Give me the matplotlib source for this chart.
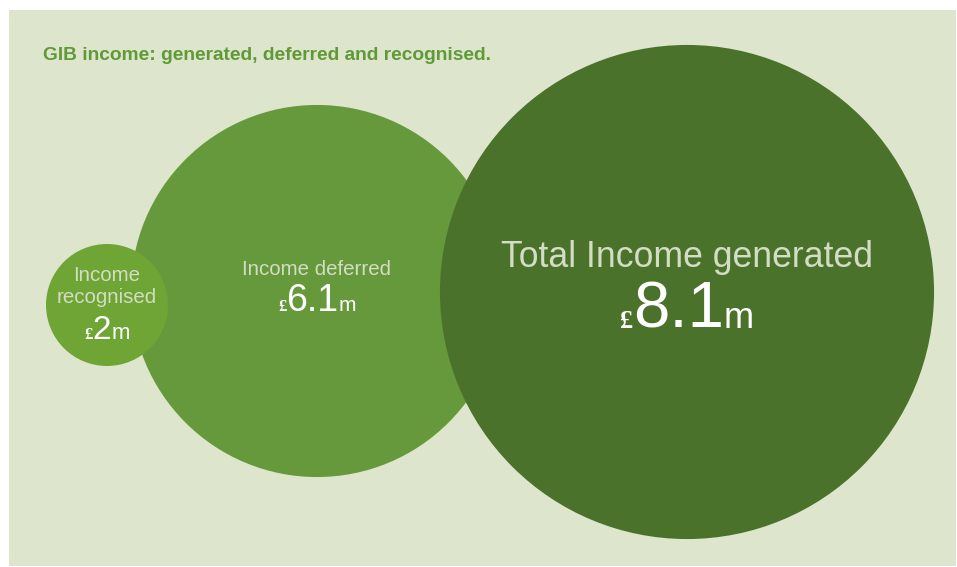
import matplotlib

matplotlib.use("Agg")

import matplotlib.pyplot as plt
from matplotlib.patches import Circle, Rectangle

# values (GBP m) and their labels
labels = ["Income\nrecognised", "Income deferred", "Total Income generated"]
values = [2.0, 6.1, 8.1]
value_text = ["2", "6.1", "8.1"]

# layout in pixel coordinates
centers = [(107, 305), (317, 291), (687, 292)]
px_per_m = 30.5
colors = ["#6ea534", "#66993b", "#4b722a"]
zorders = [4, 2, 3]
label_y = [303, 275, 267]  # baseline of the last line
label_size = [14.8, 14.8, 25.7]
value_y = [339, 311, 328]
value_size = [24, 27, 47]
pound_size = [12, 12, 19]
m_size = [16, 15, 26]

BG = "#dde6cd"
LABEL_COLOR = "#d2ddc4"
FONT = "Liberation Sans"


def draw_value(ax, fig, x, y, i):
    # "£", number and "m" on a shared baseline, centred on x
    parts = [("£", pound_size[i], "Liberation Serif", "bold"),
             (value_text[i], value_size[i], FONT, "normal"),
             ("m", m_size[i], FONT, "normal")]
    renderer = fig.canvas.get_renderer()
    texts = []
    for s, fs, fam, fw in parts:
        t = ax.text(0, y, s, fontsize=fs, color="white", family=fam,
                    fontweight=fw, ha="left", va="baseline", zorder=10)
        texts.append(t)
    widths = []
    inv = ax.transData.inverted()
    for t in texts:
        bb = t.get_window_extent(renderer)
        x0 = inv.transform((bb.x0, bb.y0))[0]
        x1 = inv.transform((bb.x1, bb.y0))[0]
        widths.append(x1 - x0)
    cur = x - sum(widths) / 2
    for t, w in zip(texts, widths):
        t.set_x(cur)
        cur += w


fig = plt.figure(figsize=(9.57, 5.67), dpi=100)
ax = fig.add_axes([0, 0, 1, 1])
ax.set_xlim(0, 957)
ax.set_ylim(567, 0)
ax.axis("off")

ax.add_patch(Rectangle((9, 10), 947, 556, facecolor=BG, edgecolor="none"))

for i in range(3):
    ax.add_patch(Circle(centers[i], values[i] * px_per_m, facecolor=colors[i],
                        edgecolor="none", zorder=zorders[i]))

ax.text(43, 60, "GIB income: generated, deferred and recognised.", fontsize=13.8,
        fontweight="bold", color="#5f9a37", family=FONT, va="baseline")

for i in range(3):
    cx = centers[i][0]
    ax.text(cx, label_y[i], labels[i], fontsize=label_size[i], color=LABEL_COLOR,
            family=FONT, ha="center", va="baseline", linespacing=1.2, zorder=10)
    draw_value(ax, fig, cx, value_y[i], i)

fig.savefig("out.png", dpi=100, facecolor="white")
